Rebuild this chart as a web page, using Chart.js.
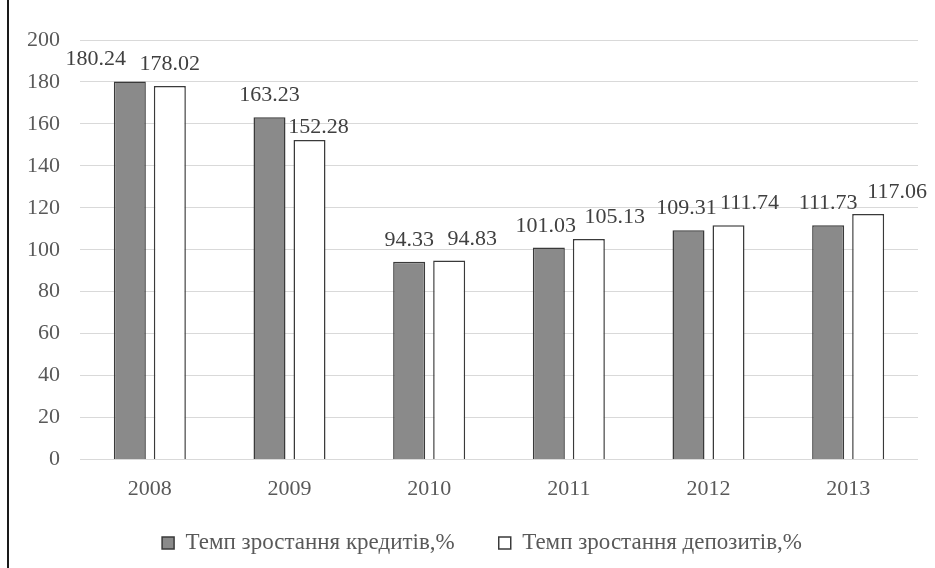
<!DOCTYPE html>
<html>
<head>
<meta charset="utf-8">
<script src="https://cdn.jsdelivr.net/npm/chart.js@4"></script>
<style>
    html, body { margin: 0; padding: 0; background: #ffffff; }
    #wrap { position: relative; width: 935px; height: 568px; }
    #edge { position: absolute; left: 7px; top: 0; width: 2px; height: 568px; background: #1a1a1a; }
</style>
</head>
<body>
<div id="wrap">
    <canvas id="rateChart" width="935" height="568"></canvas>
    <div id="edge"></div>
</div>
<script>
// ================= DATA =================

const years = ["2008", "2009", "2010", "2011", "2012", "2013"];

const creditGrowth = [180.24, 163.23, 94.33, 101.03, 109.31, 111.73];

const depositGrowth = [178.02, 152.28, 94.83, 105.13, 111.74, 117.06];

const seriesNames = [
    "Темп зростання кредитів,%",
    "Темп зростання депозитів,%"
];

const serifFont = "'Liberation Serif', 'Times New Roman', serif";


// ================= VALUE LABELS =================

// Labels were nudged by hand in the original so they don't collide
const labelNudge = [
    [[-34, 0], [0, 0], [0, 0], [-3, 0], [-2, 0], [0, 0]],
    [[0, 0], [9, 9], [23, 0], [26, 0], [21, 0], [29, 0]]
];

// Write each value above its bar
const valueLabels = {

    id: "valueLabels",

    afterDatasetsDraw(chart) {

        const { ctx } = chart;

        ctx.save();

        ctx.fillStyle = "#404040";
        ctx.font = "22px " + serifFont;
        ctx.textAlign = "center";
        ctx.textBaseline = "alphabetic";

        chart.data.datasets.forEach((dataset, i) => {

            chart.getDatasetMeta(i).data.forEach((bar, j) => {

                const [dx, dy] = labelNudge[i][j];

                ctx.fillText(
                    dataset.data[j].toFixed(2),
                    bar.x + dx,
                    bar.y - 16 + dy
                );
            });
        });

        ctx.restore();
    }
};

// Wide legend spacing squeezes the x axis box; give its labels room
// again and slide the legend a little right, like the original
const layoutTweaks = {

    id: "layoutTweaks",

    afterLayout(chart) {

        chart.scales.x.bottom = chart.height;

        chart.legend.left += 23;
        chart.legend.right += 23;
    }
};


// ================= CHART =================

Chart.defaults.font.family = serifFont;

new Chart(
    document.getElementById("rateChart"),
    {
        type: "bar",

        data: {
            labels: years,

            datasets: [
                {
                    label: seriesNames[0],
                    data: creditGrowth,
                    backgroundColor: "#8a8a8a",
                    borderColor: "#3a3a3a",
                    borderWidth: 1.5,
                    categoryPercentage: 0.573,
                    barPercentage: 0.8
                },
                {
                    label: seriesNames[1],
                    data: depositGrowth,
                    backgroundColor: "#ffffff",
                    borderColor: "#3a3a3a",
                    borderWidth: 1.5,
                    categoryPercentage: 0.573,
                    barPercentage: 0.8
                }
            ]
        },

        options: {
            responsive: false,
            animation: false,

            layout: {
                padding: {
                    top: 40,
                    right: 17,
                    bottom: 3.5,
                    left: 0
                }
            },

            plugins: {
                legend: {
                    position: "bottom",
                    labels: {
                        boxWidth: 12,
                        boxHeight: 12,
                        padding: 44,
                        color: "#595959",
                        font: { size: 23 }
                    }
                },
                tooltip: { enabled: false }
            },

            scales: {
                x: {
                    grid: { display: false },
                    border: { display: false },
                    ticks: {
                        color: "#595959",
                        font: { size: 22 },
                        padding: 9
                    },
                    afterFit(scale) {
                        scale.height = 28;
                    }
                },
                y: {
                    min: 0,
                    max: 200,
                    grid: {
                        color: "#d9d9d9",
                        drawTicks: false
                    },
                    border: { display: false },
                    ticks: {
                        stepSize: 20,
                        color: "#595959",
                        font: { size: 22 },
                        padding: 20
                    },
                    afterFit(scale) {
                        scale.width = 80;
                    }
                }
            }
        },

        plugins: [
            valueLabels,
            layoutTweaks
        ]
    }
);
</script>
</body>
</html>
